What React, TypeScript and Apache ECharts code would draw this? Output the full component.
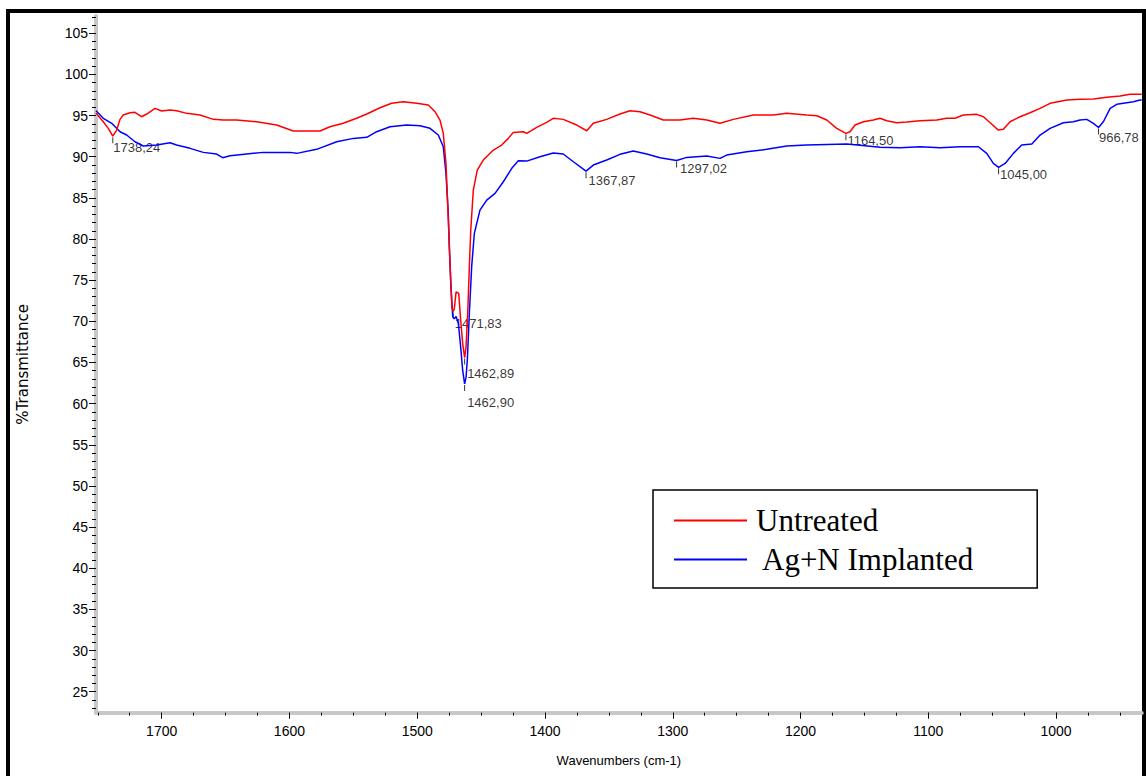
import React, { useEffect, useRef } from "react";
import * as echarts from "echarts";

// FTIR spectra: wavenumber (cm-1) vs % transmittance
const untreatedWn = [
  1751.4, 1745.7, 1741.8, 1738.24, 1735.2, 1732.6, 1730.1, 1724.8, 1720.9, 1715.7, 1711.7, 1705.2, 1700.0,
  1693.5, 1688.3, 1680.4, 1670.0, 1659.6, 1651.8, 1641.3, 1625.6, 1610.0, 1597.0, 1576.1, 1568.3, 1557.9,
  1547.4, 1539.5, 1529.1, 1520.0, 1510.9, 1500.4, 1491.3, 1486.1, 1482.2, 1479.6, 1477.5, 1476.1, 1474.9,
  1473.8, 1472.8, 1471.83, 1471.0, 1469.6, 1467.5, 1466.0, 1464.4, 1462.89, 1461.8, 1460.5, 1459.2, 1458.1,
  1456.1, 1453.0, 1448.3, 1440.4, 1433.9, 1428.7, 1424.8, 1417.0, 1414.3, 1406.5, 1398.7, 1393.5, 1385.7,
  1375.2, 1367.3, 1362.2, 1351.7, 1341.3, 1333.5, 1325.6, 1317.8, 1307.4, 1294.3, 1283.9, 1273.4, 1263.0,
  1252.6, 1236.9, 1221.3, 1210.8, 1195.1, 1187.3, 1179.5, 1171.7, 1164.5, 1161.3, 1157.3, 1150.8, 1143.0,
  1137.8, 1132.5, 1124.7, 1116.9, 1106.5, 1093.4, 1085.6, 1079.1, 1072.6, 1062.1, 1056.9, 1050.3, 1045.2,
  1041.3, 1036.0, 1028.2, 1020.4, 1012.5, 1004.7, 991.6, 981.2, 970.8, 960.3, 949.9, 942.1, 934.3, 933.0,
];
const untreatedT = [
  95.3, 94.25, 93.45, 92.5, 93.24, 94.54, 95.07, 95.35, 95.4, 94.86, 95.19, 95.88, 95.55,
  95.67, 95.59, 95.27, 95.07, 94.54, 94.46, 94.46, 94.25, 93.85, 93.12, 93.12, 93.64, 94.06,
  94.67, 95.19, 95.95, 96.49, 96.68, 96.49, 96.28, 95.47, 94.46, 92.84, 89.19, 83.92, 79.47,
  75.01, 71.6, 71.2, 71.5, 73.58, 73.39, 70.14, 67.3, 65.6, 66.9, 70.96, 76.62, 81.09,
  85.95, 88.38, 89.6, 90.81, 91.42, 92.23, 92.96, 93.04, 92.84, 93.57, 94.18, 94.67, 94.54,
  93.85, 93.16, 94.06, 94.54, 95.19, 95.59, 95.47, 95.07, 94.46, 94.46, 94.67, 94.46, 94.06,
  94.54, 95.07, 95.07, 95.27, 95.07, 94.98, 94.46, 93.45, 92.84, 93.04, 93.85, 94.25, 94.46,
  94.67, 94.37, 94.13, 94.21, 94.37, 94.46, 94.67, 94.67, 95.07, 95.15, 94.86, 93.94, 93.24,
  93.33, 94.25, 94.86, 95.35, 95.88, 96.49, 96.89, 96.98, 97.01, 97.22, 97.38, 97.58, 97.58, 97.6,
];

const implantedWn = [
  1751.4, 1745.7, 1739.1, 1732.6, 1727.4, 1720.9, 1714.4, 1703.9, 1693.5, 1688.3, 1677.8, 1667.4, 1657.0,
  1652.3, 1646.5, 1633.5, 1620.5, 1599.6, 1594.3, 1578.7, 1563.0, 1550.0, 1539.5, 1531.7, 1521.3, 1508.2,
  1497.8, 1490.0, 1483.5, 1479.6, 1477.5, 1475.7, 1474.9, 1473.6, 1472.2, 1471.0, 1469.6, 1467.8, 1466.0,
  1464.4, 1462.9, 1461.8, 1460.8, 1459.2, 1457.4, 1455.3, 1450.9, 1445.6, 1439.1, 1432.6, 1426.0, 1420.9,
  1414.3, 1403.9, 1393.5, 1385.7, 1377.8, 1367.87, 1362.2, 1351.7, 1341.3, 1330.9, 1320.4, 1310.0, 1297.02,
  1289.1, 1273.4, 1263.0, 1257.8, 1242.1, 1226.5, 1210.8, 1195.1, 1179.5, 1163.8, 1153.5, 1137.8, 1122.1,
  1106.5, 1090.8, 1075.2, 1060.8, 1054.3, 1049.1, 1045.0, 1039.9, 1033.4, 1026.9, 1019.0, 1012.5, 1004.7,
  994.3, 986.5, 981.2, 976.0, 970.8, 966.78, 963.0, 957.7, 952.5, 944.7, 939.5, 934.3, 933.0,
];
const implantedT = [
  95.59, 94.67, 94.06, 93.04, 92.64, 91.82, 91.3, 91.42, 91.7, 91.42, 91.02, 90.53, 90.33,
  89.88, 90.12, 90.33, 90.53, 90.53, 90.41, 90.9, 91.82, 92.23, 92.36, 93.04, 93.64, 93.85,
  93.77, 93.45, 92.64, 91.21, 87.98, 83.12, 79.05, 74.19, 70.54, 70.3, 70.6, 69.74, 66.9,
  64.0, 62.4, 63.2, 65.28, 70.96, 76.62, 80.68, 83.52, 84.73, 85.55, 86.96, 88.59, 89.51,
  89.47, 90.0, 90.45, 90.33, 89.39, 88.25, 88.99, 89.6, 90.29, 90.69, 90.33, 89.88, 89.55,
  89.92, 90.08, 89.8, 90.2, 90.61, 90.9, 91.3, 91.42, 91.5, 91.54, 91.4, 91.14, 91.09,
  91.21, 91.09, 91.21, 91.21, 90.41, 89.19, 88.71, 89.19, 90.41, 91.42, 91.54, 92.64, 93.45,
  94.13, 94.25, 94.46, 94.54, 94.06, 93.55, 94.25, 95.88, 96.37, 96.56, 96.68, 96.89, 96.9,
];

// Picked peaks
const peakWn = [1738.24, 1471.83, 1462.89, 1462.9, 1367.87, 1297.02, 1164.5, 1045.0, 966.78];
const peakT = [92.5, 71.2, 65.6, 62.4, 88.25, 89.55, 92.84, 88.71, 93.55];
const peakText = ["1738,24", "1471,83", "1462,89", "1462,90", "1367,87", "1297,02", "1164,50", "1045,00", "966,78"];
// label placement relative to each peak marker
const peakLabelOffset: [number, number][] = [
  [1, 4], [2, 5], [3, 8], [3, 11], [3, 2], [4, 1], [2, 0], [2, 0], [1, 2],
];

// Axis ticks
const xMajorTicks = [1000, 1100, 1200, 1300, 1400, 1500, 1600, 1700];
const xMinorTicks: number[] = [];
for (let v = 950; v <= 1750; v += 25) xMinorTicks.push(v);
const yMajorTicks = [25, 30, 35, 40, 45, 50, 55, 60, 65, 70, 75, 80, 85, 90, 95, 100, 105];
const yMinorTicks: number[] = [];
for (let v = 23; v <= 107; v += 1) yMinorTicks.push(v);

const X_MIN = 933;
const X_MAX = 1751.4;
const Y_MIN = 22.45;
const Y_MAX = 107.1;

const SANS = '"Liberation Sans", Arial, sans-serif';
const SERIF = '"Liberation Serif", "Times New Roman", serif';

const zip = (a: number[], b: number[]) => a.map((v, i) => [v, b[i]]);

export default function App() {
  const ref = useRef<HTMLDivElement>(null);

  useEffect(() => {
    if (!ref.current) return;
    const chart = echarts.init(ref.current, undefined, { renderer: "svg" });

    const xBase = {
      type: "value" as const,
      min: X_MIN,
      max: X_MAX,
      inverse: true,
      position: "bottom" as const,
      splitLine: { show: false },
    };
    const yBase = {
      type: "value" as const,
      min: Y_MIN,
      max: Y_MAX,
      position: "left" as const,
      splitLine: { show: false },
    };

    chart.setOption({
      animation: false,
      backgroundColor: "#ffffff",
      grid: { left: 96, right: 4.3, top: 16, bottom: 63.3, containLabel: false },
      xAxis: [
        {
          ...xBase,
          axisLine: { show: true, lineStyle: { color: "#c8c8c8", width: 4 } },
          axisTick: { show: true, customValues: xMajorTicks, length: 6, lineStyle: { color: "#000", width: 1 } },
          axisLabel: {
            customValues: xMajorTicks,
            formatter: (v: number) => String(v),
            color: "#000",
            fontFamily: SANS,
            fontSize: 14,
            margin: 11,
          },
          name: "Wavenumbers (cm-1)",
          nameLocation: "middle",
          nameGap: 41,
          nameTextStyle: { color: "#000", fontFamily: SANS, fontSize: 13 },
        },
        {
          ...xBase,
          axisLine: { show: false },
          axisTick: { show: true, customValues: xMinorTicks, length: 3, lineStyle: { color: "#000", width: 1 } },
          axisLabel: { show: false },
        },
      ],
      yAxis: [
        {
          ...yBase,
          axisLine: { show: true, lineStyle: { color: "#c8c8c8", width: 4 } },
          axisTick: { show: true, customValues: yMajorTicks, length: 7, lineStyle: { color: "#000", width: 1 } },
          axisLabel: {
            customValues: yMajorTicks,
            formatter: (v: number) => String(v),
            color: "#000",
            fontFamily: SANS,
            fontSize: 14,
            margin: 8,
          },
          name: "%Transmittance",
          nameLocation: "middle",
          nameGap: 66,
          nameTextStyle: { color: "#000", fontFamily: '"DejaVu Sans", sans-serif', fontSize: 15 },
        },
        {
          ...yBase,
          axisLine: { show: false },
          axisTick: { show: true, customValues: yMinorTicks, length: 4, lineStyle: { color: "#000", width: 1 } },
          axisLabel: { show: false },
        },
      ],
      legend: {
        data: [
          { name: "Untreated" },
          { name: "Ag+N Implanted", textStyle: { padding: [0, 0, 0, 10] } },
        ],
        orient: "vertical",
        left: 653,
        top: 490,
        padding: [15, 64, 13, 21],
        itemGap: 8,
        itemWidth: 73,
        itemHeight: 2,
        icon: "rect",
        borderColor: "#000",
        borderWidth: 1.5,
        backgroundColor: "#fff",
        textStyle: { fontFamily: SERIF, fontSize: 31, color: "#000", padding: [0, 0, 0, 4] },
        selectedMode: false,
      },
      graphic: [
        {
          type: "rect",
          shape: { x: 8, y: 11, width: 1136, height: 800 },
          style: { fill: "none", stroke: "#000", lineWidth: 4 },
          silent: true,
        },
      ],
      series: [
        {
          name: "Ag+N Implanted",
          type: "line",
          data: zip(implantedWn, implantedT),
          showSymbol: false,
          lineStyle: { color: "#0000ff", width: 1.5 },
          itemStyle: { color: "#0000ff" },
          silent: true,
        },
        {
          name: "Untreated",
          type: "line",
          data: zip(untreatedWn, untreatedT),
          showSymbol: false,
          lineStyle: { color: "#ff0000", width: 1.5 },
          itemStyle: { color: "#ff0000" },
          silent: true,
        },
        {
          name: "Peaks",
          type: "scatter",
          symbol: "rect",
          symbolSize: [1, 6],
          symbolOffset: [0, 4],
          itemStyle: { color: "#000" },
          silent: true,
          data: peakWn.map((w, i) => ({
            value: [w, peakT[i]],
            name: peakText[i],
            label: { position: peakLabelOffset[i] },
          })),
          label: {
            show: true,
            formatter: "{b}",
            color: "#000",
            fontFamily: SANS,
            fontSize: 13,
            align: "left",
            verticalAlign: "top",
          },
        },
      ],
    });

    return () => chart.dispose();
  }, []);

  return (
    <div
      ref={ref}
      style={{ position: "fixed", left: 0, top: 0, width: 1146, height: 776, background: "#fff" }}
    />
  );
}
